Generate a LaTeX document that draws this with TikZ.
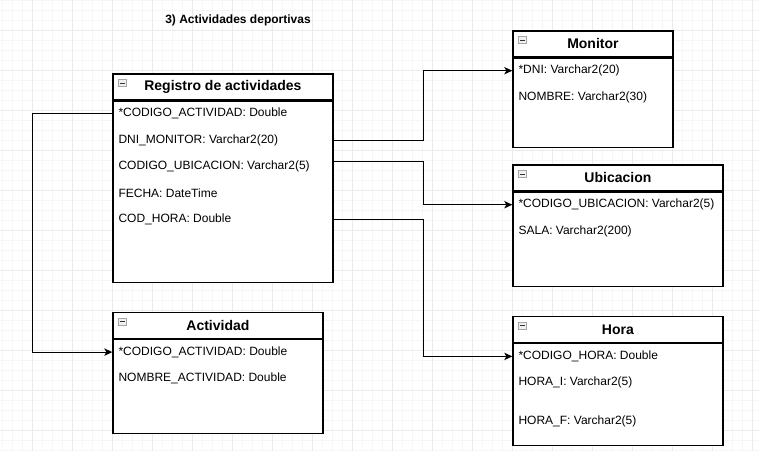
\documentclass[tikz,border=0pt]{standalone}
\usepackage{fontspec}
\setmainfont{Liberation Sans}
\usetikzlibrary{positioning,calc,arrows.meta}
\tikzset{
  head/.style  = {rectangle, draw=black, line width=0.9pt, fill=white,
                  minimum height=19.5pt, inner sep=0pt,
                  font=\fontsize{10.5}{12}\selectfont\bfseries},
  body/.style  = {rectangle, draw=black, line width=0.9pt, fill=white, inner sep=0pt},
  field/.style = {rectangle, minimum height=19.4pt, inner sep=0pt,
                  font=\fontsize{9}{11}\selectfont},
  fold/.style  = {rectangle, draw=gray!70, fill=gray!12, line width=0.5pt,
                  minimum width=6pt, minimum height=5.2pt, inner sep=0pt,
                  path picture={\draw[gray!40!black, line width=0.6pt]
                    ([xshift=1.2pt]path picture bounding box.west) --
                    ([xshift=-1.2pt]path picture bounding box.east);}},
  titletext/.style = {font=\fontsize{9}{11}\selectfont\bfseries},
  arrow/.style = {line width=0.85pt, -{Stealth[length=6pt,width=5.5pt,inset=1.5pt]}},
  minorgrid/.style = {gray!7, line width=0.75pt},
  majorgrid/.style = {gray!16, line width=0.75pt}
}

\begin{document}
\begin{tikzpicture}[x=0.75pt, y=-0.75pt, node distance=0pt]

\useasboundingbox (0,0) rectangle (759,451);
\fill[white] (0,0) rectangle (759,451);

% background grid
\foreach \x in {2.7,12.7,...,759} \draw[minorgrid] (\x,0) -- (\x,451);
\foreach \y in {0,10,...,450} \draw[minorgrid] (0,\y) -- (759,\y);
\foreach \x in {32.7,72.7,...,759} \draw[majorgrid] (\x,0) -- (\x,451);
\foreach \y in {30,70,...,450} \draw[majorgrid] (0,\y) -- (759,\y);

\node (title) [titletext] at (238,20) {3) Actividades deportivas};

% Registro de actividades
\node (reg)  [head, minimum width=165pt, anchor=north west] at (112.3,73.3) {Registro de actividades};
\node (regb) [body, minimum width=165pt, minimum height=136.3pt, below=of reg] {};
\node (regfold) [fold, anchor=north west] at ([xshift=4.5pt,yshift=-4.5pt]reg.north west) {};
\node (regcod)  [field, below=of regb.north west, xshift=4.5pt, anchor=north west] {*CODIGO\_ACTIVIDAD: Double};
\node (regdni)  [field, below=of regcod.south west, anchor=north west] {DNI\_MONITOR: Varchar2(20)};
\node (regubi)  [field, below=of regdni.south west, anchor=north west] {CODIGO\_UBICACION: Varchar2(5)};
\node (regfec)  [field, below=of regubi.south west, anchor=north west] {FECHA: DateTime};
\node (reghora) [field, below=of regfec.south west, anchor=north west] {COD\_HORA: Double};

% Monitor
\node (mon)  [head, minimum width=120pt, anchor=north west] at (512.3,30.3) {Monitor};
\node (monb) [body, minimum width=120pt, minimum height=67pt, below=of mon] {};
\node (monfold) [fold, anchor=north west] at ([xshift=4.5pt,yshift=-4.5pt]mon.north west) {};
\node (mondni) [field, below=of monb.north west, xshift=4.5pt, anchor=north west] {*DNI: Varchar2(20)};
\node (monnom) [field, below=of mondni.south west, anchor=north west] {NOMBRE: Varchar2(30)};

% Ubicacion
\node (ubi)  [head, minimum width=157.5pt, anchor=north west] at (512.3,164.3) {Ubicacion};
\node (ubib) [body, minimum width=157.5pt, minimum height=70.5pt, below=of ubi] {};
\node (ubifold) [fold, anchor=north west] at ([xshift=4.5pt,yshift=-4.5pt]ubi.north west) {};
\node (ubicod) [field, below=of ubib.north west, xshift=4.5pt, anchor=north west] {*CODIGO\_UBICACION: Varchar2(5)};
\node (ubisala) [field, below=of ubicod.south west, anchor=north west] {SALA: Varchar2(200)};

% Actividad
\node (act)  [head, minimum width=157.5pt, anchor=north west] at (112.3,311.7) {Actividad};
\node (actb) [body, minimum width=157.5pt, minimum height=70.7pt, below=of act] {};
\node (actfold) [fold, anchor=north west] at ([xshift=4.5pt,yshift=-4.5pt]act.north west) {};
\node (actcod) [field, below=of actb.north west, xshift=4.5pt, anchor=north west] {*CODIGO\_ACTIVIDAD: Double};
\node (actnom) [field, below=of actcod.south west, anchor=north west] {NOMBRE\_ACTIVIDAD: Double};

% Hora
\node (hora)  [head, minimum width=157.5pt, anchor=north west] at (512.3,316) {Hora};
\node (horab) [body, minimum width=157.5pt, minimum height=76.2pt, below=of hora] {};
\node (horafold) [fold, anchor=north west] at ([xshift=4.5pt,yshift=-4.5pt]hora.north west) {};
\node (horacod) [field, below=of horab.north west, xshift=4.5pt, anchor=north west] {*CODIGO\_HORA: Double};
\node (horai)   [field, below=of horacod.south west, anchor=north west] {HORA\_I: Varchar2(5)};
\node (horaf)   [field, below=9pt of horai.south west, anchor=north west] {HORA\_F: Varchar2(5)};

% relaciones
\draw[arrow] (regb.east |- regdni) -- ++(90,0) |- (monb.west |- mondni);
\draw[arrow] ($(regb.east |- regubi)+(0,-5)$) -- ++(90,0) |- (ubib.west |- ubicod);
\draw[arrow] (regb.east |- reghora) -- ++(90,0) |- (horab.west |- horacod);
\draw[arrow] (regb.west |- regcod) -- ++(-80,0) |- (actb.west |- actcod);

\end{tikzpicture}
\end{document}
